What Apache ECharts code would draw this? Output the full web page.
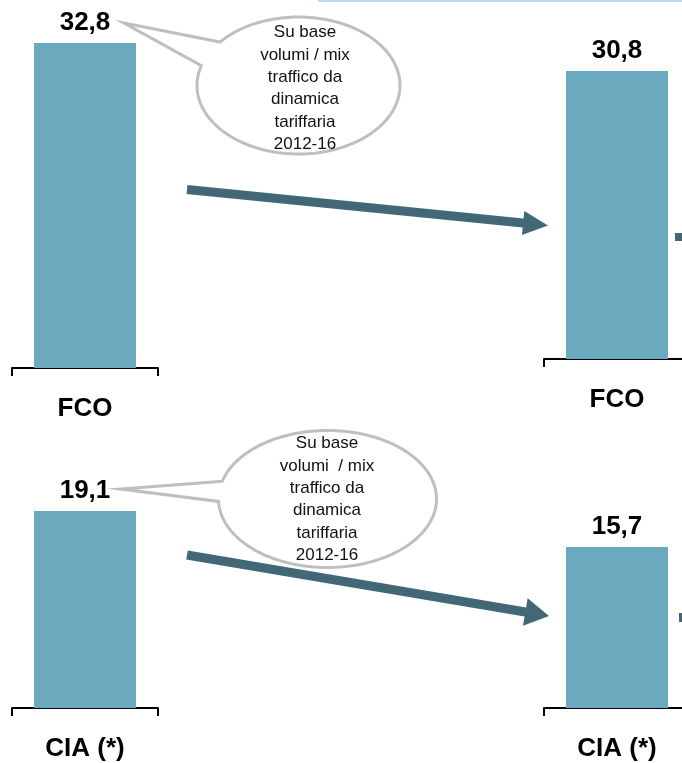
<!DOCTYPE html>
<html>
<head>
<meta charset="utf-8">
<script src="https://cdn.jsdelivr.net/npm/echarts@6/dist/echarts.min.js"></script>
<style>
  html, body { margin: 0; padding: 0; background: #ffffff; }
  #chart { width: 682px; height: 763px; }
</style>
</head>
<body>
<div id="chart"></div>
<script>
// Airports and yearly values (mln), before and after the tariff dynamics
const airports = ['FCO', 'CIA (*)'];
const valuesBefore = [32.8, 19.1];
const valuesAfter = [30.8, 15.7];

// Callout text for each airport panel
const calloutFCO = ['Su base', 'volumi / mix', 'traffico da', 'dinamica', 'tariffaria', '2012-16'];
const calloutCIA = ['Su base', 'volumi  / mix', 'traffico da', 'dinamica', 'tariffaria', '2012-16'];

const BAR_COLOR = '#6aa9be';
const ARROW_COLOR = '#426877';
const FONT = '"Liberation Sans", Arial, Helvetica, sans-serif';

const chart = echarts.init(document.getElementById('chart'), null, { renderer: 'canvas' });

// One panel per bar: [left, top, width, height]
const panels = [
  { box: [12, 43, 146, 325], cat: airports[0], val: valuesBefore[0] },
  { box: [544, 71, 146, 288], cat: airports[0], val: valuesAfter[0] },
  { box: [12, 511, 146, 197], cat: airports[1], val: valuesBefore[1] },
  { box: [544, 547, 146, 161], cat: airports[1], val: valuesAfter[1] }
];

const fmt = v => v.toFixed(1).replace('.', ',');

const grids = panels.map(p => ({
  left: p.box[0], top: p.box[1], width: p.box[2], height: p.box[3],
  containLabel: false,
  outerBoundsMode: 'none'
}));

const xAxes = panels.map((p, i) => ({
  type: 'category',
  gridIndex: i,
  data: [p.cat],
  boundaryGap: true,
  axisLine: { show: true, lineStyle: { color: '#000', width: 2 } },
  axisTick: { show: true, length: 8, lineStyle: { color: '#000', width: 2 } },
  axisLabel: {
    show: true, margin: 28, color: '#000', fontFamily: FONT,
    fontWeight: 'bold', fontSize: 26, lineHeight: 26
  },
  splitLine: { show: false }
}));

const yAxes = panels.map((p, i) => ({
  type: 'value', gridIndex: i, min: 0, max: 'dataMax', show: false,
  splitLine: { show: false }
}));

const series = panels.map((p, i) => ({
  type: 'bar',
  xAxisIndex: i, yAxisIndex: i,
  data: [p.val],
  barWidth: 102,
  itemStyle: { color: BAR_COLOR },
  label: {
    show: true, position: 'top', distance: 7,
    formatter: d => fmt(d.value),
    color: '#000', fontFamily: FONT, fontWeight: 'bold',
    fontSize: 26, lineHeight: 26
  },
  silent: true,
  animation: false
}));

// Speech-bubble outline: ellipse arc from angle a1 round to a2 plus a pointed tail
function bubblePoints(cx, cy, rx, ry, a1, a2, tip) {
  const pts = [tip];
  const end = a2 + 360;
  const steps = 160;
  for (let k = 0; k <= steps; k++) {
    const a = (a1 + (end - a1) * k / steps) * Math.PI / 180;
    pts.push([cx + rx * Math.cos(a), cy + ry * Math.sin(a)]);
  }
  return pts;
}

// Straight block arrow polygon
function arrowPoints(x1, y1, x2, y2, shaft, headLen, headW) {
  const dx = x2 - x1, dy = y2 - y1;
  const L = Math.hypot(dx, dy);
  const ux = dx / L, uy = dy / L;
  const nx = -uy, ny = ux;
  const bx = x2 - ux * headLen, by = y2 - uy * headLen;
  const s = shaft / 2, h = headW / 2;
  return [
    [x1 + nx * s, y1 + ny * s],
    [bx + nx * s, by + ny * s],
    [bx + nx * h, by + ny * h],
    [x2, y2],
    [bx - nx * h, by - ny * h],
    [bx - nx * s, by - ny * s],
    [x1 - nx * s, y1 - ny * s]
  ];
}

function bubble(cx, cy, rx, ry, a1, a2, tip, lines, tx, ty) {
  return [
    {
      type: 'polygon', z: 10,
      shape: { points: bubblePoints(cx, cy, rx, ry, a1, a2, tip) },
      style: { fill: '#ffffff', stroke: '#bfbfbf', lineWidth: 3, lineJoin: 'miter' }
    },
    {
      type: 'text', z: 11, x: tx, y: ty,
      style: {
        text: lines.join('\n'), fill: '#111', fontFamily: FONT, fontSize: 17,
        lineHeight: 22.3, align: 'center', verticalAlign: 'middle'
      }
    }
  ];
}

const graphics = [
  // thin header rule
  { type: 'rect', shape: { x: 318, y: 0, width: 364, height: 2 }, style: { fill: '#b7dbe8' } },
  // trend arrows
  { type: 'polygon', z: 5, shape: { points: arrowPoints(187, 189.5, 548, 225.5, 9, 25, 24) }, style: { fill: ARROW_COLOR } },
  { type: 'polygon', z: 5, shape: { points: arrowPoints(187, 555, 549, 616, 9, 24, 28) }, style: { fill: ARROW_COLOR } },
  // arrow stubs entering from the right edge
  { type: 'rect', shape: { x: 675, y: 233, width: 7, height: 8 }, style: { fill: ARROW_COLOR } },
  { type: 'rect', shape: { x: 679, y: 613, width: 3, height: 9 }, style: { fill: ARROW_COLOR } }
]
  .concat(bubble(298.5, 85.5, 101.5, 68.5, 219.4, 196.9, [124, 23], calloutFCO, 305, 88.5))
  .concat(bubble(327.5, 499, 109, 68.5, 195, 178, [121, 489], calloutCIA, 327, 499.5));

chart.setOption({
  animation: false,
  backgroundColor: '#ffffff',
  grid: grids,
  xAxis: xAxes,
  yAxis: yAxes,
  series: series,
  graphic: graphics
});
</script>
</body>
</html>
